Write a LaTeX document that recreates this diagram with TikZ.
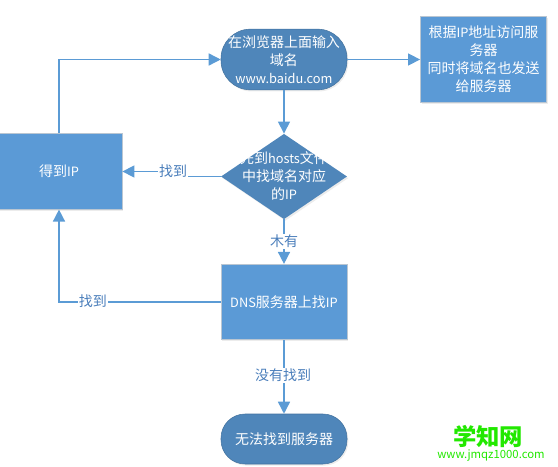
\documentclass[tikz,border=0pt]{standalone}
\usepackage{fontspec}
\setmainfont{Noto Sans CJK SC}
\newcommand{\latn}[1]{{\fontsize{9.6}{13.5}\selectfont #1}}
\usetikzlibrary{arrows.meta,shapes.geometric,shadows}
\definecolor{linec}{HTML}{5B9BD5}
\definecolor{boxc}{HTML}{5B9AD6}
\definecolor{darkc}{HTML}{4F86BA}
\definecolor{edgec}{HTML}{BAC6D2}
\definecolor{labc}{HTML}{4A7EBB}
\definecolor{markc}{HTML}{22E800}
\tikzset{
  x=0.75pt,y=-0.75pt,
  base/.style={text=white,align=center,font=\fontsize{10.5}{13.5}\selectfont,inner sep=0pt,
    drop shadow={opacity=.15,shadow xshift=1pt,shadow yshift=-1.2pt}},
  sqbox/.style={base,rectangle,fill=boxc,draw=edgec,line width=.6pt,minimum width=94.5pt,minimum height=56.5pt},
  oval/.style={base,rectangle,rounded corners=22pt,fill=darkc,draw=darkc!85!black,line width=.4pt,minimum width=94.5pt},
  decide/.style={base,diamond,fill=darkc,aspect=1.47,inner xsep=-30pt,inner ysep=-15pt,minimum width=94.5pt,minimum height=64pt},
  flow/.style={draw=linec,line width=1.1pt,-{Triangle[length=9pt,width=9pt,fill=linec]}},
  lab/.style={fill=white,text=labc,font=\fontsize{10.5}{13.5}\selectfont,inner xsep=1pt,inner ysep=1pt}
}
\begin{document}
\begin{tikzpicture}
\useasboundingbox (0,0) rectangle (558,467);
\node[oval,minimum height=45.5pt] (start) at (284,59.5) {在浏览器上面输入\\域名\\\latn{www.baidu.com}};
\node[sqbox,minimum height=64pt] (srv) at (483.5,59.5) {根据\latn{IP}地址访问服\\务器\\同时将域名也发送\\给服务器};
\node[decide] (hosts) at (284,176.5) {先到\latn{hosts}文件\\中找域名对应\\的\latn{IP}};
\node[sqbox] (got) at (59,171.5) {得到\latn{IP}};
\node[sqbox] (dns) at (284,302) {\latn{DNS}服务器上找\latn{IP}};
\node[oval,minimum height=37.5pt,rounded corners=18pt] (fail) at (284,439) {无法找到服务器};
\coordinate (jog) at (171,176.5);
\draw[flow] (start) -- (srv);
\draw[flow] (start) -- (hosts);
\draw[flow] (hosts.south) -- (dns.north);
\draw[flow] (dns.south) -- (fail.north);
\draw[flow] (hosts.west) -- (jog) -- (jog |- got.east) -- (got.east);
\draw[flow] (dns.west) -| (got.south);
\draw[flow] (got.north) |- (start.west);
\node[lab] (l1) at (173,171.5) {找到};
\node[lab] (l2) at (93,301.5) {找到};
\node[lab] (l3) at (284,241.5) {木有};
\node[lab] (l4) at (283,375.5) {没有找到};
\node[text=markc,font=\fontsize{17.5}{20}\selectfont\bfseries,inner sep=0pt] (mark1) at (488,436) {学知网};
\node[text=markc,font=\fontsize{8.5}{10}\selectfont,inner sep=0pt] (mark2) at (491,455) {www.jmqz1000.com};
\end{tikzpicture}
\end{document}
